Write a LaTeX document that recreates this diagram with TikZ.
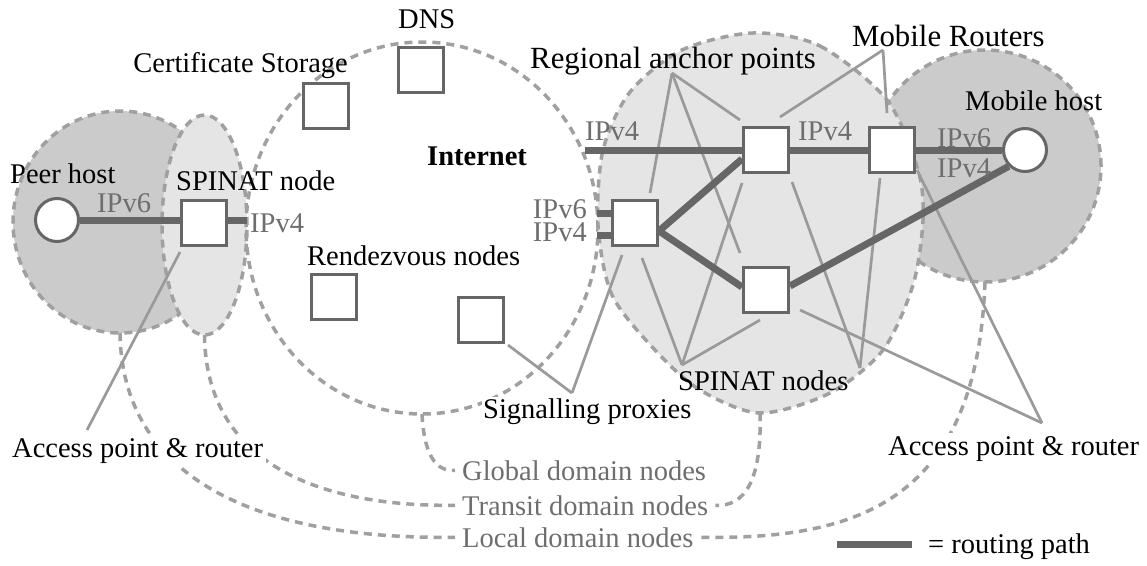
\documentclass[tikz,border=0pt]{standalone}
\usepackage{fontspec}
\setmainfont{Liberation Serif}
\usetikzlibrary{calc}
\definecolor{pathgray}{HTML}{666666}
\definecolor{linkgray}{HTML}{9A9A9A}
\definecolor{dashgray}{HTML}{A0A0A0}
\definecolor{zonedark}{HTML}{CBCBCB}
\definecolor{zonelight}{HTML}{E5E5E5}
\definecolor{labelgray}{HTML}{6E6E6E}
\pgfdeclarelayer{zones}
\pgfdeclarelayer{wires}
\pgfsetlayers{zones,wires,main}
\begin{document}
\begin{tikzpicture}[x=1pt,y=-1pt,
  font=\fontsize{28.5}{32}\selectfont,
  router/.style={draw=pathgray, line width=3pt, fill=white, minimum size=45pt, inner sep=0pt},
  hostcircle/.style={circle, draw=pathgray, line width=3pt, fill=white, minimum size=43pt, inner sep=0pt},
  route/.style={draw=pathgray, line width=7pt},
  pointer/.style={draw=linkgray, line width=2.7pt},
  member/.style={draw=dashgray, line width=3.5pt, dash pattern=on 8pt off 6pt},
  zone/.style={member, fill=#1},
  lbl/.style={inner sep=0pt, anchor=base west},
  proto/.style={lbl, text=labelgray},
  biglbl/.style={font=\fontsize{30.8}{34}\selectfont},
]
\useasboundingbox (0,0) rectangle (1147,565);

% ---- hosts and routers ----
\node[hostcircle] (peer)   at (57,220)  {};
\node[router] (spin)   at (204,223) {};
\node[router] (cs)     at (326,106) {};
\node[router] (dnsbox) at (421,70)  {};
\node[router] (rz1)    at (334,297) {};
\node[router] (rz2)    at (481,320) {};
\node[router] (L)      at (635,223) {};
\node[router] (M)      at (766,150) {};
\node[router] (R)      at (892,150) {};
\node[router] (D)      at (766,290) {};
\node[hostcircle] (mhost)  at (1025,150) {};

% ---- labels ----
\node[lbl] (dns) at (398,28) {DNS};
\node[lbl, anchor=base east] (cert) at (348,72) {Certificate Storage};
\node[lbl] (inet) at (427,165) {\bfseries Internet};
\node[lbl, biglbl] (ra) at (530,68) {Regional anchor points};
\node[lbl, biglbl] (mr) at (852,46) {Mobile Routers};
\node[lbl] (mh) at (965,110) {Mobile host};
\node[lbl] (ph) at (10,183) {Peer host};
\node[lbl] (sn) at (176,190) {SPINAT node};
\node[lbl] (rv) at (307,265) {Rendezvous nodes};
\node[lbl, fill=white, inner sep=1pt] (sp) at (482,418) {Signalling proxies};
\node[lbl] (sns) at (678,390) {SPINAT nodes};
\node[lbl, fill=white, inner sep=3pt] (apL) at (9,457) {Access point \& router};
\node[lbl, fill=white, inner sep=3pt] (apR) at (885,455) {Access point \& router};
\node[proto, inner xsep=7pt] (glob) at (455,480) {Global domain nodes};
\node[proto, inner xsep=7pt] (tran) at (455,515) {Transit domain nodes};
\node[proto, inner xsep=7pt] (loc)  at (455,547) {Local domain nodes};
\node[lbl] (leg) at (928,553) {= routing path};

\node[proto] (peerV6) at (97,212)  {IPv6};
\node[proto] (snV4)   at (250,232) {IPv4};
\node[proto] (inV4)   at (585,140) {IPv4};
\node[proto] (mrV4)   at (798,140) {IPv4};
\node[proto, text depth=0pt] (mhV6) at (937,147) {IPv6};
\node[proto] (mhV4)   at (937,177) {IPv4};
\node[inner sep=0pt, anchor=east, align=right, text=labelgray,
      font=\fontsize{28.5}{23}\selectfont] (lV) at (587,221) {IPv6\\IPv4};

% ---- free ends of connectors ----
\coordinate (raTip)  at (672,73);
\coordinate (mrTip)  at (883,50);
\coordinate (snTip1) at (682,365);
\coordinate (snTip2) at (860,368);
\coordinate (spTip)  at (572,393);
\coordinate (apRTip) at (1042,423);
\coordinate (apLTip) at (87,430);
\coordinate (inetEnd) at (585,150);
\coordinate (snStub) at (247,220);
\coordinate (v6in) at (597,213);
\coordinate (v4in) at (597,235);
\coordinate (legA) at (837,544);
\coordinate (peerBottom) at (120,333);
\coordinate (spinBottom) at (204.5,335);
\coordinate (inetBottom) at (422,414);
\coordinate (regBottom)  at (760,413);
\coordinate (mobBottom)  at (985,282);

% ---- domains ----
\begin{pgfonlayer}{zones}
\draw[zone=zonedark]  (120,222) ellipse [x radius=107pt, y radius=111pt];
\draw[zone=zonelight] (204.5,225) ellipse [x radius=42.5pt, y radius=110pt];
\draw[member] (422,228) ellipse [x radius=176pt, y radius=186pt];
\draw[zone=zonedark]  (985,166) circle [radius=116pt];
\draw[zone=zonelight] plot[smooth cycle] coordinates {
  (753,33) (820,46) (887,100) (918,170) (923,220) (913,285) (883,350)
  (830,393) (760,413) (700,390) (655,350) (612,295) (598,225) (603,150)
  (630,92) (682,50)};
\end{pgfonlayer}

\begin{pgfonlayer}{wires}
% domain membership
\draw[member] (inetBottom) .. controls (424,455) and (436,472) .. (glob.west);
\draw[member] (spinBottom) .. controls (206,470) and (330,507) .. (tran.west);
\draw[member] (regBottom)  .. controls (762,480) and (745,507) .. (tran.east);
\draw[member] (peerBottom) .. controls (122,480) and (260,540) .. (loc.west);
\draw[member] (mobBottom)  .. controls (977,500) and (860,540) .. (loc.east);

% label pointers
\draw[pointer] (raTip) -- ($(L)+(15,-30)$);
\draw[pointer] (raTip) -- ($(M)+(-26,-30)$);
\draw[pointer] (raTip) -- ($(D)+(-26,-37)$);
\draw[pointer] (mrTip) -- ($(M)+(14,-33)$);
\draw[pointer] (mrTip) -- ($(R)+(-5,-37)$);
\draw[pointer] (snTip1) -- ($(L)+(7,35)$);
\draw[pointer] (snTip1) -- ($(M)+(-24,33)$);
\draw[pointer] (snTip1) -- ($(D)+(-6,30)$);
\draw[pointer] (snTip2) -- ($(M)+(26,32)$);
\draw[pointer] (snTip2) -- ($(R)+(-12,28)$);
\draw[pointer] (spTip) -- ($(L)+(-13,32)$);
\draw[pointer] (spTip) -- ($(rz2)+(27,25)$);
\draw[pointer] (apRTip) -- ($(R)+(25,20)$);
\draw[pointer] (apRTip) -- ($(D)+(34,20)$);
\draw[pointer] (apLTip) -- ($(spin)+(-24,29)$);

% routing paths
\draw[route] (peer.east) -- (peer.east -| spin.west);
\draw[route] (spin.east |- peer.east) -- (snStub);
\draw[route] (inetEnd) -- (M.west);
\draw[route] (M.east) -- (R.west);
\draw[route] (R.east) -- (mhost.west);
\draw[route] ($(L.east)+(0,8)$) -- ($(M.west)+(0,9)$);
\draw[route] ($(L.east)+(0,8)$) -- ($(D.west)+(0,-3)$);
\draw[route] ($(D.east)+(0,-4)$) -- (mhost.225);
\draw[route] (v6in) -- (v6in -| L.west);
\draw[route] (v4in) -- (v4in -| L.west);
\draw[route, shorten >=16pt] (legA) -- (legA -| leg.west);
\end{pgfonlayer}
\end{tikzpicture}
\end{document}
